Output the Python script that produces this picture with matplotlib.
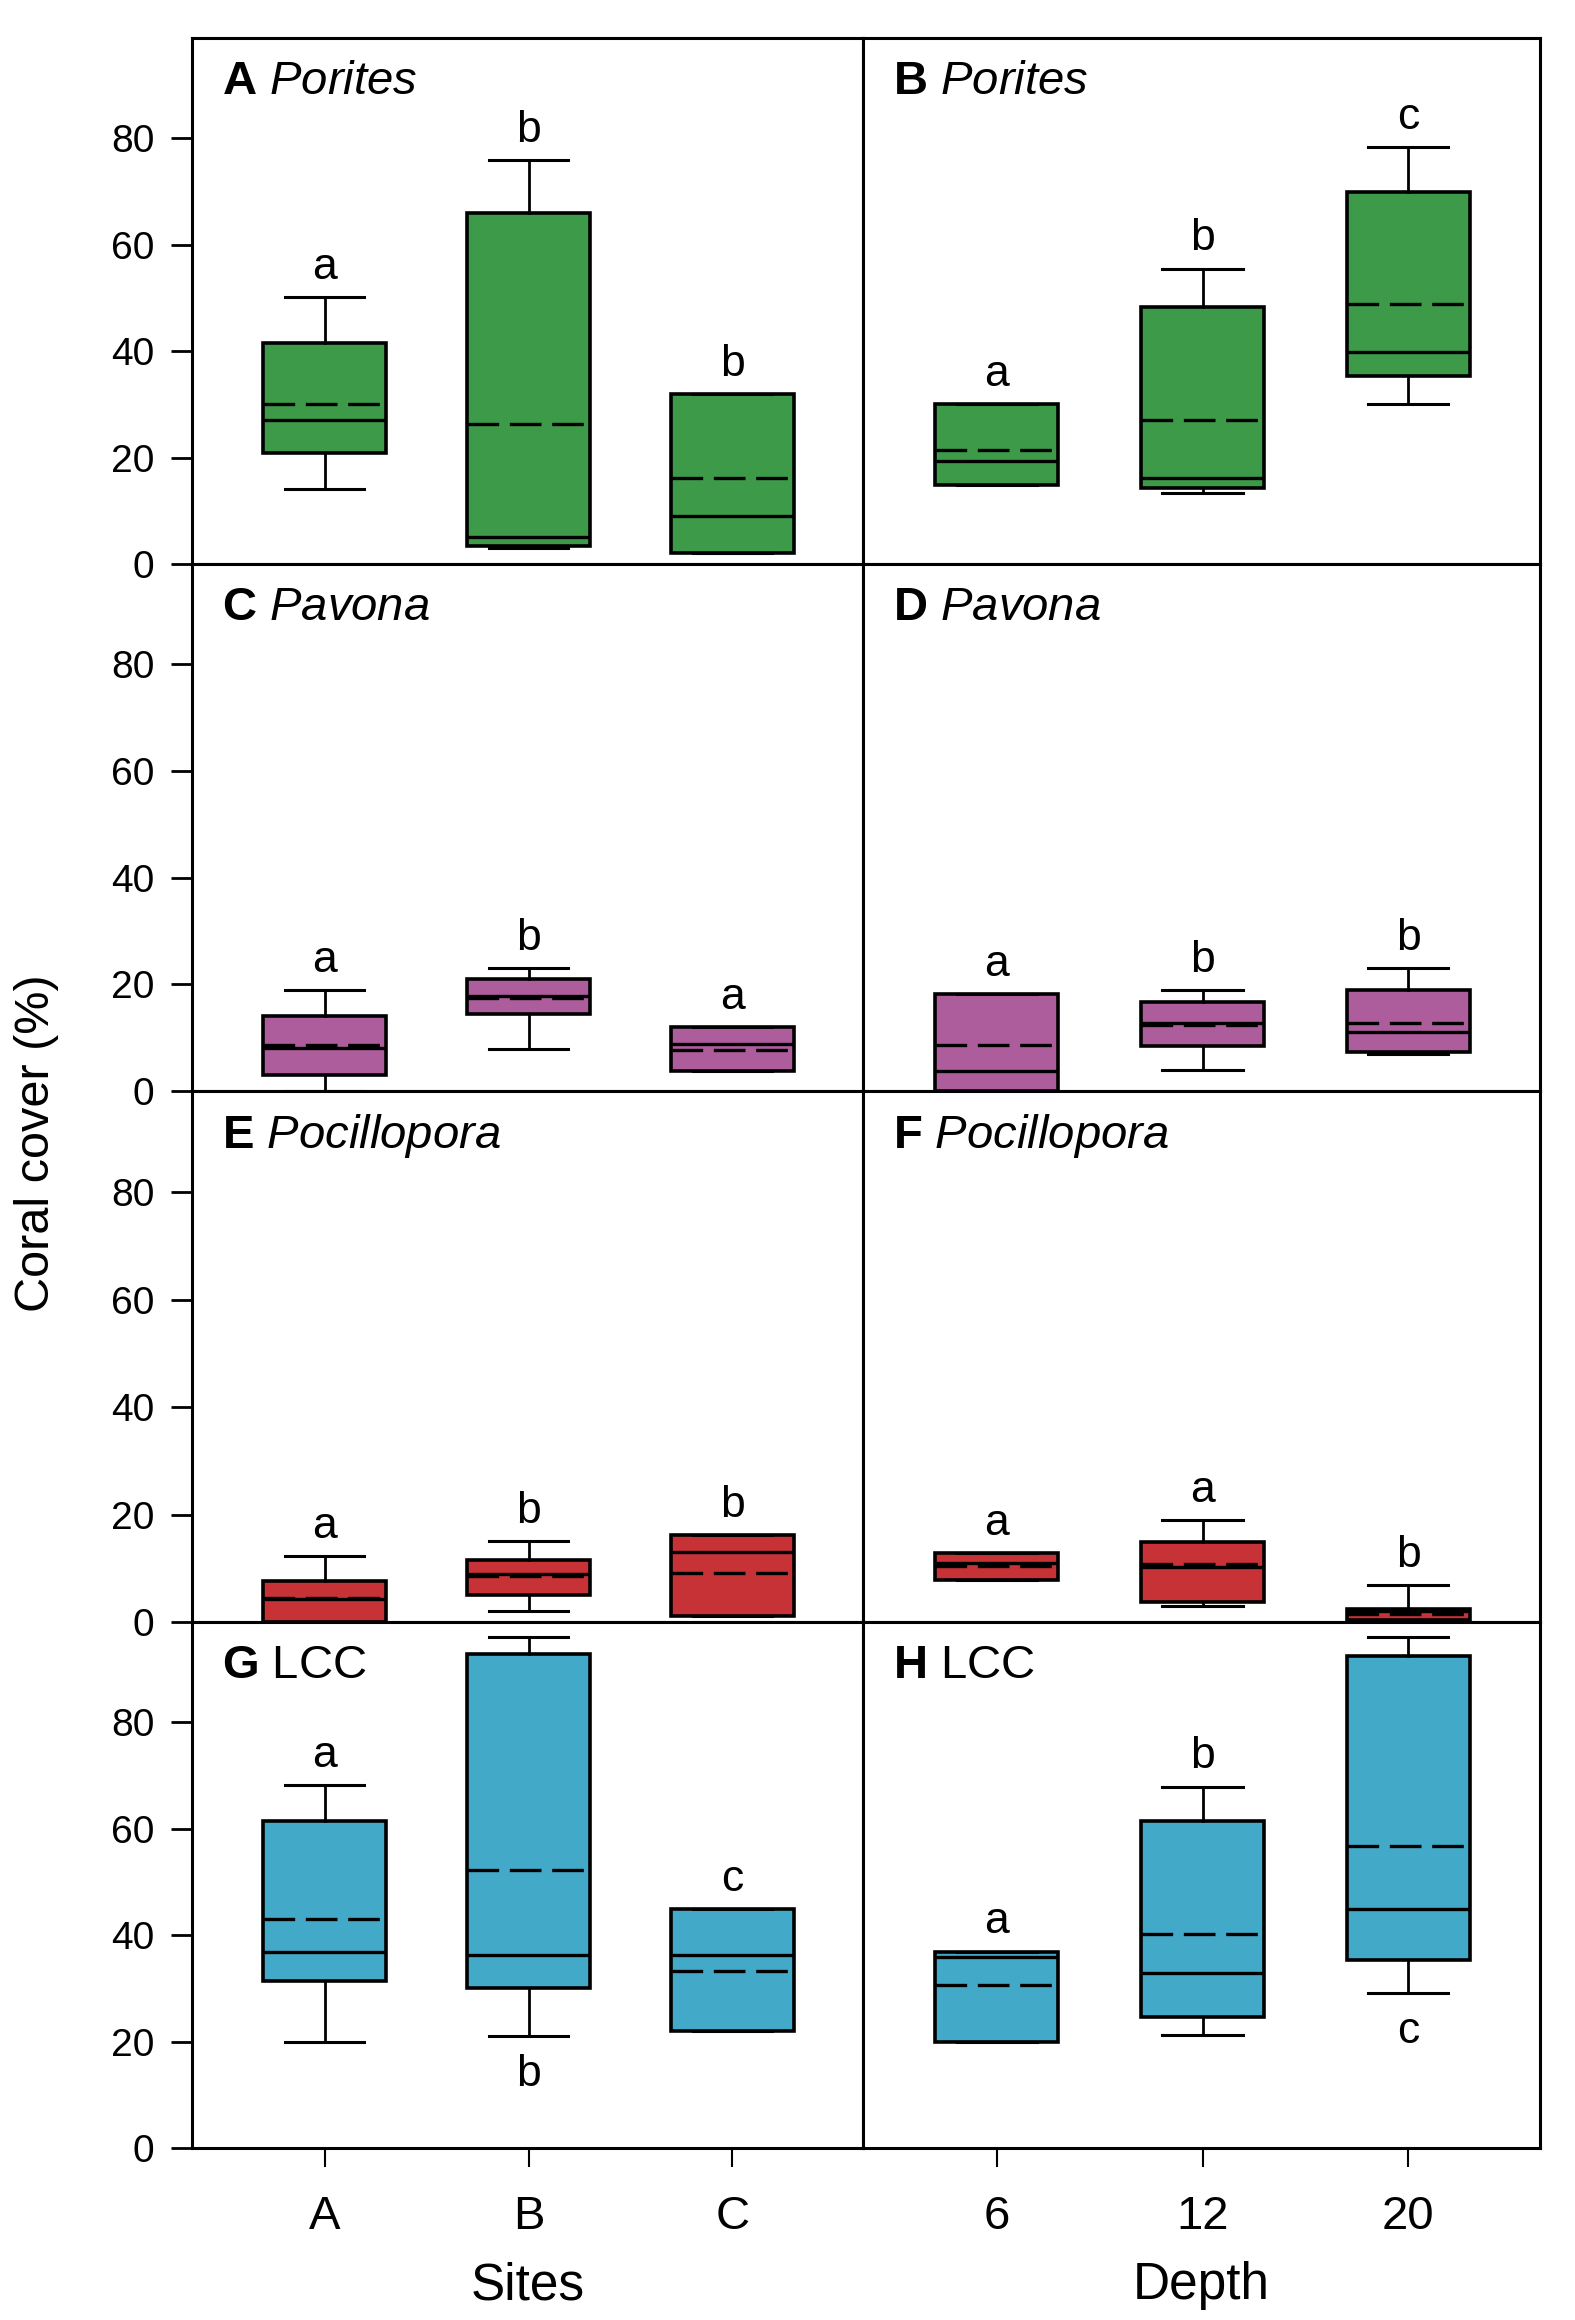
import matplotlib
matplotlib.use("Agg")
import matplotlib.pyplot as plt

plt.rcParams['font.family'] = ['Liberation Sans', 'DejaVu Sans']
plt.rcParams['mathtext.fontset'] = 'custom'
plt.rcParams['mathtext.rm'] = 'Liberation Sans'
plt.rcParams['mathtext.it'] = 'Liberation Sans:italic'
plt.rcParams['mathtext.bf'] = 'Liberation Sans:bold'

# ---- data: each row = [whisker low, q1, median, mean, q3, whisker high]
sites = ['A', 'B', 'C']
depths = ['6', '12', '20']

porites_sites = [[14.0, 20.9, 27.0, 30.1, 41.6, 50.1],
                 [3.0, 3.4, 5.0, 26.3, 66.0, 75.9],
                 [2.0, 2.0, 9.0, 16.2, 32.0, 32.0]]
porites_depth = [[14.9, 14.9, 19.3, 21.4, 30.1, 30.1],
                 [13.3, 14.2, 16.2, 27.1, 48.2, 55.5],
                 [30.0, 35.3, 39.8, 48.8, 69.8, 78.4]]
pavona_sites = [[0.0, 3.0, 8.1, 8.7, 14.0, 18.9],
                [7.9, 14.4, 17.8, 17.4, 21.0, 23.0],
                [3.8, 3.8, 8.9, 7.7, 12.0, 12.0]]
pavona_depth = [[0.0, 0.0, 3.7, 8.7, 18.1, 18.1],
                [4.0, 8.5, 12.7, 12.4, 16.6, 18.9],
                [6.9, 7.3, 11.1, 12.8, 18.9, 23.0]]
pocil_sites = [[0.0, 0.0, 4.2, 4.5, 7.6, 12.2],
               [2.0, 5.0, 8.9, 8.5, 11.5, 15.0],
               [1.1, 1.1, 13.1, 9.2, 16.1, 16.1]]
pocil_depth = [[7.8, 7.8, 10.9, 10.5, 12.9, 12.9],
               [3.0, 3.8, 10.2, 10.8, 14.9, 18.9],
               [0.3, 0.3, 2.0, 1.5, 2.5, 6.8]]
lcc_sites = [[20.0, 31.4, 36.9, 43.0, 61.5, 68.2],
             [21.0, 30.1, 36.2, 52.2, 92.8, 95.9],
             [22.0, 22.0, 36.2, 33.2, 44.8, 44.8]]
lcc_depth = [[20.0, 20.0, 35.9, 30.6, 36.9, 36.9],
             [21.2, 24.6, 32.9, 40.2, 61.5, 67.9],
             [29.1, 35.4, 44.9, 56.8, 92.5, 95.9]]

# significance letters, and whether they sit above or below the box
letters = {
    'A': (['a', 'b', 'b'], ['up', 'up', 'up']),
    'B': (['a', 'b', 'c'], ['up', 'up', 'up']),
    'C': (['a', 'b', 'a'], ['up', 'up', 'up']),
    'D': (['a', 'b', 'b'], ['up', 'up', 'up']),
    'E': (['a', 'b', 'b'], ['up', 'up', 'up']),
    'F': (['a', 'a', 'b'], ['up', 'up', 'up']),
    'G': (['a', 'b', 'c'], ['up', 'down', 'up']),
    'H': (['a', 'b', 'c'], ['up', 'up', 'down']),
}

panels = [
    ('A', 'Porites', porites_sites, '#3d9a48', True),
    ('B', 'Porites', porites_depth, '#3d9a48', True),
    ('C', 'Pavona', pavona_sites, '#ae5d9c', True),
    ('D', 'Pavona', pavona_depth, '#ae5d9c', True),
    ('E', 'Pocillopora', pocil_sites, '#c73236', True),
    ('F', 'Pocillopora', pocil_depth, '#c73236', True),
    ('G', 'LCC', lcc_sites, '#43a9c8', False),
    ('H', 'LCC', lcc_depth, '#43a9c8', False),
]

W, H = 1575, 2320
fig = plt.figure(figsize=(W / 100, H / 100), dpi=100)

col_x = [(192, 863), (863, 1540)]
row_y = [(38, 564), (564, 1091), (1091, 1622), (1622, 2148)]

for i, (tag, name, rows, color, italic) in enumerate(panels):
    r, c = divmod(i, 2)
    x0, x1 = col_x[c]
    y0, y1 = row_y[r]
    ax = fig.add_axes([x0 / W, 1 - y1 / H, (x1 - x0) / W, (y1 - y0) / H])

    stats = []
    for v in rows:
        stats.append(dict(whislo=v[0], q1=v[1], med=v[2], mean=v[3],
                          q3=v[4], whishi=v[5], fliers=[]))
    ax.bxp(stats, positions=[1, 2, 3], widths=0.6, capwidths=0.39,
           patch_artist=True, showmeans=True, meanline=True,
           showfliers=False,
           boxprops=dict(facecolor=color, edgecolor='black', linewidth=2.6),
           medianprops=dict(color='black', linewidth=2.4),
           meanprops=dict(color='black', linewidth=2.4,
                          linestyle=(0, (9.5, 3.2))),
           whiskerprops=dict(color='black', linewidth=2.0),
           capprops=dict(color='black', linewidth=2.2))

    ax.set_xlim(0.35, 3.64)
    ax.set_ylim(0, 98.8)

    labs, where = letters[tag]
    for k, v in enumerate(rows):
        if where[k] == 'up':
            ax.annotate(labs[k], (k + 1, v[5]), xytext=(0, 13),
                        textcoords='offset points', ha='center',
                        va='baseline', fontsize=32)
        else:
            ax.annotate(labs[k], (k + 1, v[0]), xytext=(0, -13),
                        textcoords='offset points', ha='center',
                        va='top', fontsize=32)

    if italic:
        title = r'$\bf{%s}$ $\it{%s}$' % (tag, name)
    else:
        title = r'$\bf{%s}$ %s' % (tag, name)
    ax.text(0.045, 0.893, title, transform=ax.transAxes, fontsize=34,
            ha='left', va='baseline')

    for s in ax.spines.values():
        s.set_linewidth(2.2)

    if c == 0:
        ax.set_yticks([0, 20, 40, 60, 80])
        ax.tick_params(axis='y', direction='out', length=15, width=2.0,
                       pad=12, labelsize=28)
    else:
        ax.set_yticks([])

    if r == 3:
        ax.set_xticks([1, 2, 3])
        ax.set_xticklabels(sites if c == 0 else depths)
        ax.tick_params(axis='x', direction='out', length=14, width=1.5,
                       pad=20, labelsize=34)
        ax.set_xlabel('Sites' if c == 0 else 'Depth', fontsize=37,
                      labelpad=16)
    else:
        ax.set_xticks([])

fig.text(37 / W, 1 - 1143 / H, 'Coral cover (%)', rotation=90,
         ha='center', va='center', fontsize=35)

fig.savefig('out.png', dpi=100)
